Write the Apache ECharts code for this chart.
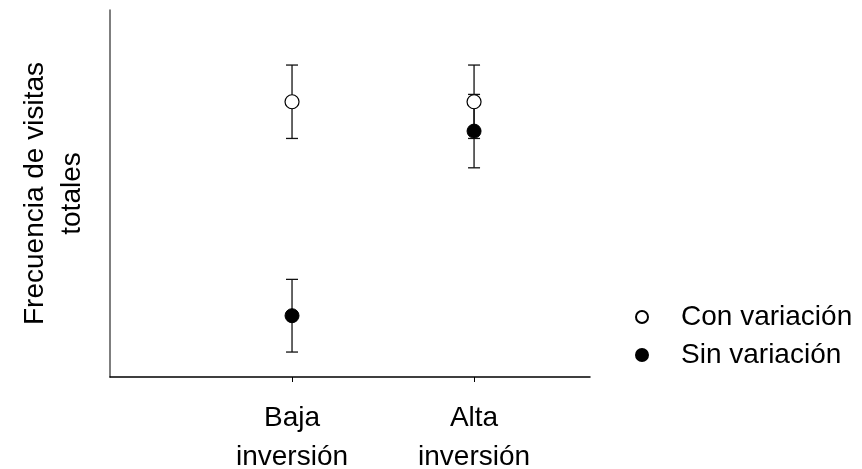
<!DOCTYPE html>
<html>
<head>
<meta charset="utf-8">
<script src="https://cdn.jsdelivr.net/npm/echarts@6/dist/echarts.min.js"></script>
<style>
html,body{margin:0;padding:0;background:#fff;}
#chart{width:862px;height:469px;}
</style>
</head>
<body>
<div id="chart"></div>
<script>
// Treatment levels (x positions 1 and 2 on the value axis)
const categories = ['Baja\ninversión', 'Alta\ninversión'];
const seriesNames = ['Con variación', 'Sin variación'];
// Mean total visit frequency and standard error per treatment
const conMeans = [75, 75];
const conErrors = [10, 10];
const sinMeans = [16.7, 67];
const sinErrors = [9.9, 10];

const FONT = 'Liberation Sans, Arial, sans-serif';

function pointData(means) {
  return means.map((m, i) => [i + 1, m]);
}
function errorData(means, errs) {
  return means.map((m, i) => [i + 1, m - errs[i], m + errs[i]]);
}

function errorBarSeries(means, errs) {
  return {
    type: 'custom',
    silent: true,
    z: 1,
    data: errorData(means, errs),
    renderItem: function (params, api) {
      const x = api.value(0);
      const lo = api.coord([x, api.value(1)]);
      const hi = api.coord([x, api.value(2)]);
      const half = 6;
      const style = { stroke: '#111', lineWidth: 1.3 };
      return {
        type: 'group',
        children: [
          { type: 'line', shape: { x1: lo[0], y1: lo[1], x2: hi[0], y2: hi[1] }, style: style },
          { type: 'line', shape: { x1: hi[0] - half, y1: hi[1], x2: hi[0] + half, y2: hi[1] }, style: style },
          { type: 'line', shape: { x1: lo[0] - half, y1: lo[1], x2: lo[0] + half, y2: lo[1] }, style: style }
        ]
      };
    }
  };
}

const chart = echarts.init(document.getElementById('chart'), null, { renderer: 'canvas' });
chart.setOption({
  animation: false,
  backgroundColor: '#fff',
  grid: { left: 110, right: 272, top: 10, bottom: 92, outerBoundsMode: 'none', containLabel: false },
  xAxis: {
    type: 'value',
    min: 0,
    max: 2.637,
    splitLine: { show: false },
    axisLine: { show: true, onZero: false, lineStyle: { color: '#000', width: 1.5 } },
    axisTick: { show: true, customValues: [1, 2], length: 5, lineStyle: { color: '#000' } },
    axisLabel: {
      customValues: [1, 2],
      formatter: v => categories[Math.round(v) - 1],
      color: '#000', fontFamily: FONT, fontSize: 28, lineHeight: 39, margin: 22, align: 'center'
    }
  },
  yAxis: {
    type: 'value',
    min: 0,
    max: 100,
    splitLine: { show: false },
    axisTick: { show: false },
    axisLabel: { show: false },
    axisLine: { show: true, lineStyle: { color: '#555', width: 1.5 } },
    name: 'Frecuencia de visitas\ntotales',
    nameLocation: 'middle',
    nameGap: 19,
    nameTextStyle: { color: '#000', fontFamily: FONT, fontSize: 28, lineHeight: 37 }
  },
  legend: {
    orient: 'vertical',
    left: 635,
    top: 303,
    padding: 0,
    itemWidth: 12,
    itemHeight: 12,
    itemGap: 10,
    icon: 'circle',
    data: seriesNames,
    textStyle: { color: '#000', fontFamily: FONT, fontSize: 28, lineHeight: 28, padding: [0, 0, 0, 28] }
  },
  series: [
    errorBarSeries(conMeans, conErrors),
    errorBarSeries(sinMeans, sinErrors),
    {
      name: seriesNames[0],
      type: 'scatter',
      z: 3,
      symbol: 'circle',
      symbolSize: 14,
      itemStyle: { color: '#fff', borderColor: '#000', borderWidth: 1.2, opacity: 1 },
      data: pointData(conMeans)
    },
    {
      name: seriesNames[1],
      type: 'scatter',
      z: 3,
      symbol: 'circle',
      symbolSize: 14,
      itemStyle: { color: '#000', borderColor: '#000', borderWidth: 1, opacity: 1 },
      data: pointData(sinMeans)
    }
  ]
});
</script>
</body>
</html>
